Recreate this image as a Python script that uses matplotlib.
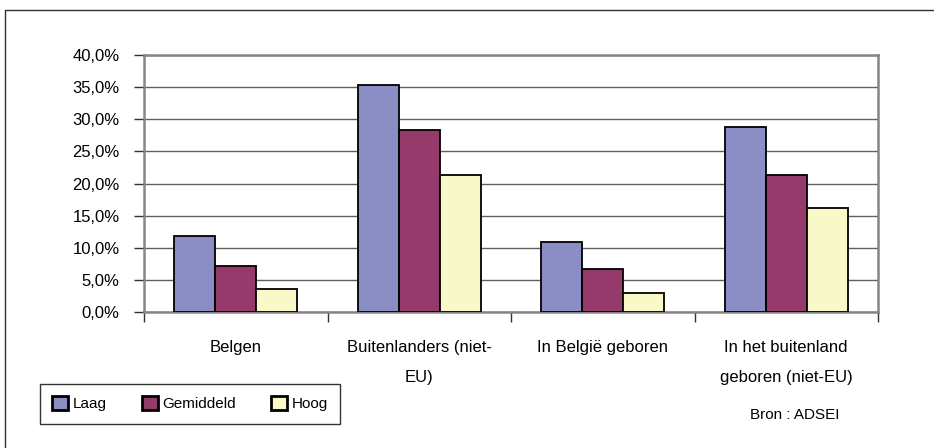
import numpy as np
import matplotlib
matplotlib.use("Agg")
from matplotlib import pyplot as plt
from matplotlib.lines import Line2D

plt.rcParams['font.family'] = ['Liberation Sans', 'DejaVu Sans']

# share of people per group, by level
categories = ["Belgen", "Buitenlanders (niet-\nEU)", "In België geboren",
              "In het buitenland\ngeboren (niet-EU)"]
series_names = ["Laag", "Gemiddeld", "Hoog"]
laag = [11.9, 35.4, 10.9, 28.8]
gemiddeld = [7.2, 28.4, 6.7, 21.4]
hoog = [3.6, 21.3, 3.0, 16.2]
yticks = [0, 5, 10, 15, 20, 25, 30, 35, 40]
source = "Bron : ADSEI"

colors = ["#8A8EC4", "#963A6B", "#F8F8C8"]
W, H = 934, 448

fig = plt.figure(figsize=(W / 100, H / 100), dpi=100)
ax = fig.add_axes([144 / W, 1 - 312 / H, (878 - 144) / W, (312 - 55) / H])

x = np.arange(len(categories))
width = 0.223
bars = []
for i, (vals, name, col) in enumerate(zip([laag, gemiddeld, hoog], series_names, colors)):
    b = ax.bar(x + (i - 1) * width, vals, width, color=col, edgecolor="black",
               linewidth=1.3, label=name, zorder=3)
    bars.append(b)

ax.set_xlim(-0.5, len(categories) - 0.5)
ax.set_ylim(0, 40)
ax.set_yticks(yticks)
ax.set_yticklabels([f"{v:.1f}%".replace(".", ",") for v in yticks], fontsize=12)
ax.yaxis.grid(True, color="#606060", linewidth=1.0, zorder=0)

# category labels at centres, tick marks at group boundaries
ax.set_xticks(x)
ax.set_xticklabels(categories, fontsize=12, linespacing=2.25)
ax.tick_params(axis="x", which="major", length=0, pad=20.5)
ax.set_xticks(np.arange(-0.5, len(categories)), minor=True)
ax.tick_params(axis="x", which="minor", length=7, width=1.0, color="#303030", direction="out")
ax.tick_params(axis="y", length=7, width=1.0, color="#303030", pad=10.5)

for side in ["top", "right", "left", "bottom"]:
    ax.spines[side].set_color("#858585")
    ax.spines[side].set_linewidth(1.8)

# outer frame of the chart
fig.add_artist(Line2D([5 / W, 5 / W, 1], [0, 1 - 10 / H, 1 - 10 / H],
                      transform=fig.transFigure, color="#303030", linewidth=1.0))

leg = fig.legend(handles=bars, labels=series_names, loc="upper left",
                 bbox_to_anchor=(40 / W, 1 - 384 / H), ncol=3, fontsize=11,
                 frameon=True, fancybox=False, edgecolor="black",
                 handlelength=1.05, handleheight=1.0, handletextpad=0.3,
                 columnspacing=2.3, borderpad=0.8, borderaxespad=0)
leg.get_frame().set_linewidth(1.0)
for p in leg.get_patches():
    p.set_linewidth(2.0)

fig.text(750 / W, 1 - 415 / H, source, fontsize=11, va="center", ha="left")

fig.savefig("out.png", dpi=100)
